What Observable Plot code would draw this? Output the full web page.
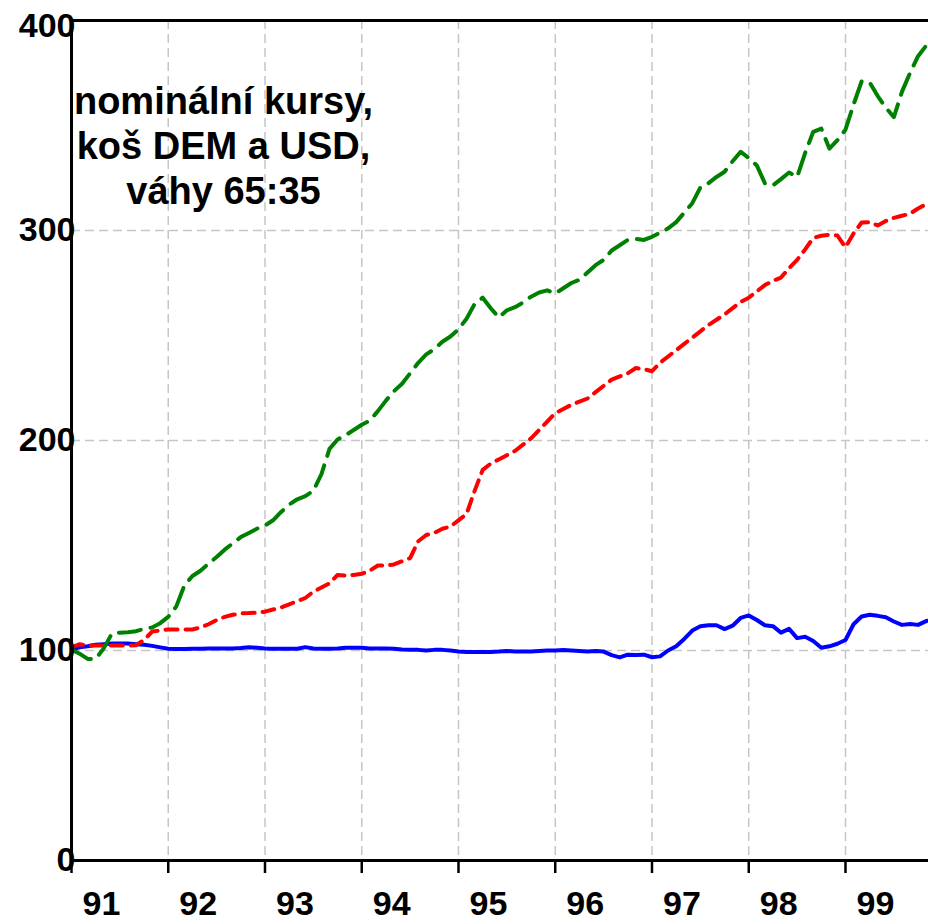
<!DOCTYPE html>
<html>
<head>
<meta charset="utf-8">
<script src="https://cdn.jsdelivr.net/npm/d3@7"></script>
<script src="https://cdn.jsdelivr.net/npm/@observablehq/plot@0.6"></script>
<style>
  html, body { margin: 0; padding: 0; background: #fff; }
  #chart svg { display: block; }
</style>
</head>
<body>
<div id="chart"></div>
<script>
// Monthly index values, January 1991 onwards (base = 100)
const startYear = 1991;

const seriesBlue = [
  100.5, 101.5, 102, 102.7, 103, 103.3, 103.3, 103.3, 103, 102.7, 102.2, 101.5,
  100.8, 100.7, 100.7, 100.8, 100.8, 101, 101, 101, 101, 101.2, 101.5, 101.3,
  101, 100.8, 100.8, 100.8, 100.8, 101.6, 101, 100.8, 100.8, 101, 101.3, 101.3,
  101.3, 101, 101, 101, 100.8, 100.5, 100.3, 100.3, 100, 100.3, 100.3, 100,
  99.5, 99.3, 99.3, 99.3, 99.3, 99.5, 99.8, 99.5, 99.5, 99.5, 99.8, 100,
  100, 100.2, 100, 99.8, 99.5, 99.8, 99.5, 97.8, 96.7, 98, 97.8, 98,
  96.8, 97.2, 100, 102, 105.5, 109.5, 111.5, 112, 112, 110.2, 111.8, 115.5,
  116.7, 114.5, 112, 111.6, 108.5, 110.3, 105.9, 106.5, 104.5, 101.3, 102, 103.2,
  105, 112.5, 116.2, 117, 116.5, 115.8, 113.8, 112.2, 112.6, 112.2, 114, 114.5
];

const seriesRed = [
  101.5, 103, 102.4, 102.4, 102.4, 102.4, 102.4, 102.4, 102.5, 105, 109, 109.5,
  110, 110, 110, 110, 111, 112.5, 114.5, 116, 117, 117.7, 117.8, 118,
  118.5, 119.5, 120.5, 122, 123.5, 125, 128, 130, 132, 136, 135.7, 136,
  136.5, 138, 140.5, 140.5, 141, 142.5, 144, 152, 155, 156, 158, 159,
  162, 165, 176, 186, 189, 191, 193, 195, 198, 201, 205, 209,
  213, 215, 217, 218.5, 220, 223, 226, 229, 230.5, 232, 234.5, 234,
  233, 237, 240, 243, 246, 249, 252, 255, 257.5, 260, 263, 266,
  268, 271, 274, 276, 277.6, 282, 286, 291, 296.5, 297.5, 298, 297.6,
  292, 298.6, 303.8, 304, 302.4, 304.5, 306, 307, 308, 310.5, 312.5, 313.5
];

const seriesGreen = [
  100.5, 98.5, 96, 96, 101, 108, 108.5, 108.7, 109.2, 110.3, 111, 113,
  116, 121, 131, 135.5, 138, 141.4, 144.5, 148, 151, 154, 156, 158,
  159.5, 162, 166, 169.5, 172, 173.5, 176, 184, 196, 200.5, 202.5, 205,
  207.5, 209.5, 214, 219, 223.5, 227, 232, 237, 241, 243.5, 247, 249.5,
  253, 258, 265, 268, 263, 258.6, 262, 263.5, 265.7, 268.5, 270.5, 271.5,
  270, 272.5, 275, 276.5, 280, 283.5, 286, 290.5, 293, 295.5, 296, 295.5,
  297, 299, 301, 304, 308.5, 313, 320.5, 322.5, 325.5, 328, 333, 337.5,
  334.5, 331, 322.5, 321.5, 324.5, 327.6, 325.5, 337, 347, 348.5, 339, 343,
  348, 360, 371, 370.5, 364, 358.5, 354, 366, 375, 383, 388, 381
];

const xTickYears = [1991, 1992, 1993, 1994, 1995, 1996, 1997, 1998, 1999];
const xGridYears = [1992, 1993, 1994, 1995, 1996, 1997, 1998, 1999];
const yTickValues = [0, 100, 200, 300];
const yTopTick = [400];
const yGridValues = [100, 200, 300];
const titleLines = ["nominální kursy,\nkoš DEM a USD,\nváhy 65:35"];

const toRows = (arr) => arr.map((v, i) => ({t: startYear + i / 12, v}));

const gridStyle = {stroke: "#c6c6c6", strokeOpacity: 1, strokeWidth: 1.5, strokeDasharray: "9,5"};
const labelFont = {fontSize: 34, fontWeight: "bold", fill: "#000", letterSpacing: 0.8};

const chart = Plot.plot({
  width: 928,
  height: 924,
  marginLeft: 71,
  marginRight: 0,
  marginTop: 20,
  marginBottom: 64,
  style: {fontFamily: "'Liberation Sans', Arial, Helvetica, sans-serif", background: "#fff", color: "#000"},
  x: {domain: [1991, 1999.858], label: null},
  y: {domain: [0, 400], label: null},
  marks: [
    Plot.gridX(xGridYears, gridStyle),
    Plot.gridY(yGridValues, gridStyle),
    Plot.lineY(toRows(seriesBlue), {x: "t", y: "v", stroke: "#0000ff", strokeWidth: 4, clip: true}),
    Plot.lineY(toRows(seriesRed), {x: "t", y: "v", stroke: "#ff0000", strokeWidth: 4, strokeDasharray: "12,8", clip: true}),
    Plot.lineY(toRows(seriesGreen), {x: "t", y: "v", stroke: "#008000", strokeWidth: 4, strokeDasharray: "22,10", clip: true}),
    Plot.axisY(yTickValues, {label: null, tickSize: 0, tickPadding: 0, dx: 4, textAnchor: "end", stroke: "none", ...labelFont}),
    Plot.axisY(yTopTick, {label: null, tickSize: 0, tickPadding: 0, dx: 4, dy: 6, textAnchor: "end", stroke: "none", ...labelFont}),
    Plot.axisX(xTickYears, {label: null, tickSize: 13, strokeWidth: 2.5, stroke: "#000", fill: "none"}),
    Plot.axisX(xTickYears, {
      label: null, tickSize: 0, tickPadding: 30, stroke: "none",
      tickFormat: (d) => String(d).slice(2), textAnchor: "start", dx: 11,
      ...labelFont
    }),
    Plot.ruleX([1991], {stroke: "#000", strokeWidth: 3}),
    Plot.ruleY([0, 400], {stroke: "#000", strokeWidth: 3}),
    Plot.text(titleLines, {
      frameAnchor: "top-left", dx: 152, dy: 61, textAnchor: "middle", lineAnchor: "top",
      lineHeight: 1.19, fontSize: 38, fontWeight: "bold", fill: "#000", letterSpacing: 0.5
    })
  ]
});

document.getElementById("chart").appendChild(chart);
</script>
</body>
</html>
